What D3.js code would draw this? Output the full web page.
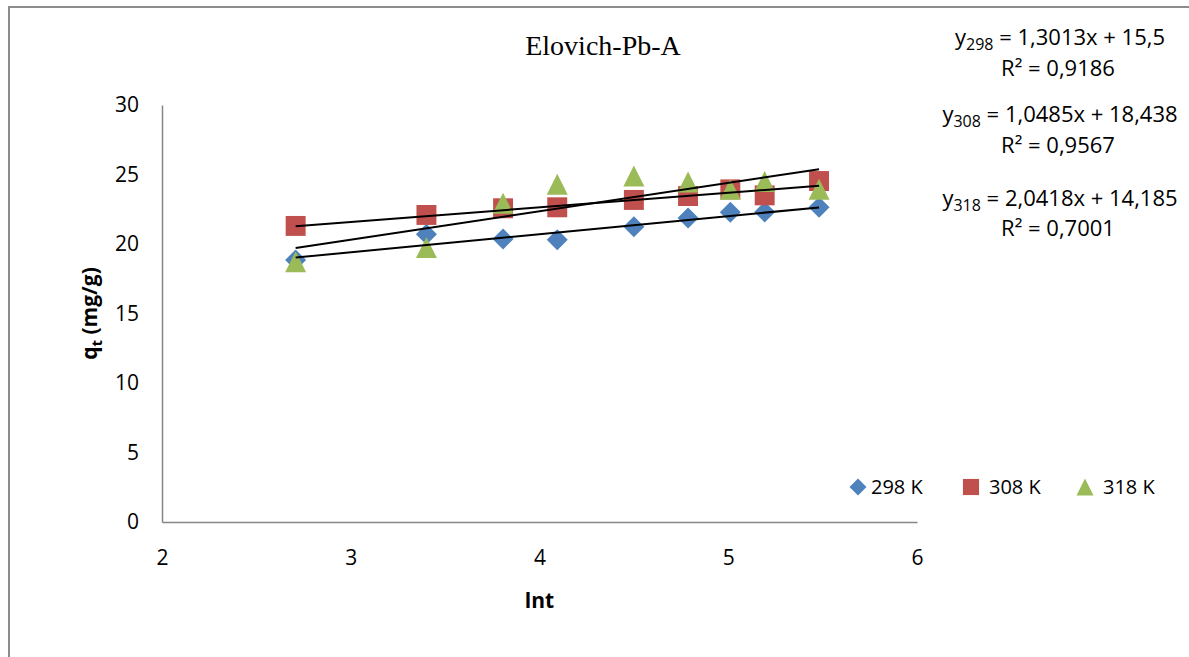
<!DOCTYPE html>
<html>
<head>
<meta charset="utf-8">
<script src="https://cdn.jsdelivr.net/npm/d3@7"></script>
<style>
  body { margin: 0; background: #fff; }
  .tick-label { font-family: "Open Sans", sans-serif; font-size: 21px; fill: #000; }
  .eq { font-family: "Open Sans", sans-serif; font-size: 22px; fill: #000; }
  .leg { font-family: "Open Sans", sans-serif; font-size: 20px; fill: #000; }
</style>
</head>
<body>
<div id="chart"></div>
<script>
(function() {
  var W = 1189, H = 657;

  // ln(t) values
  var lnt = [2.708, 3.401, 3.807, 4.094, 4.500, 4.787, 5.011, 5.193, 5.481];
  var q298 = [18.85, 20.70, 20.36, 20.30, 21.24, 21.87, 22.28, 22.30, 22.64];
  var q308 = [21.30, 22.09, 22.57, 22.64, 23.17, 23.45, 23.93, 23.50, 24.53];
  var q318 = [18.73, 19.74, 22.93, 24.30, 24.90, 24.46, 23.93, 24.50, 23.93];
  var seriesNames = ["298 K", "308 K", "318 K"];
  var slopes = [1.3013, 1.0485, 2.0418];
  var intercepts = [15.5, 18.438, 14.185];
  var eqSubs = ["298", "308", "318"];
  var eqText = ["= 1,3013x + 15,5", "= 1,0485x + 18,438", "= 2,0418x + 14,185"];
  var r2Text = ["R² = 0,9186", "R² = 0,9567", "R² = 0,7001"];
  var xTicks = [2, 3, 4, 5, 6];
  var yTicks = [0, 5, 10, 15, 20, 25, 30];

  var colors = ["#4F81BD", "#C0504D", "#9BBB59"];
  var allSeries = [q298, q308, q318];

  var plot = { left: 162, top: 105, right: 917, bottom: 522 };

  var svg = d3.select("#chart").append("svg")
    .attr("width", W)
    .attr("height", H)

  // outer frame (only top and left visible)
  svg.append("path")
    .attr("d", "M9,657 L9,7 L1189,7")
    .attr("fill", "none")
    .attr("stroke", "#8c8c8c")
    .attr("stroke-width", 2)

  var x = d3.scaleLinear().domain([2, 6]).range([plot.left, plot.right]);
  var y = d3.scaleLinear().domain([0, 30]).range([plot.bottom, plot.top]);

  // axes
  var xAxis = d3.axisBottom(x).tickValues(xTicks).tickSize(0).tickPadding(28).tickFormat(d3.format("d"));
  var gx = svg.append("g")
    .attr("transform", "translate(0," + plot.bottom + ")")
    .call(xAxis);
  gx.select(".domain").attr("stroke", "#868686").attr("stroke-width", 1.5);
  gx.selectAll("text").attr("class", "tick-label").attr("fill", null);

  var yAxis = d3.axisLeft(y).tickValues(yTicks).tickSize(0).tickPadding(23).tickFormat(d3.format("d"));
  var gy = svg.append("g")
    .attr("transform", "translate(" + plot.left + ",0)")
    .call(yAxis);
  gy.select(".domain").attr("stroke", "#868686").attr("stroke-width", 1.5);
  gy.selectAll("text").attr("class", "tick-label").attr("fill", null);

  // title
  svg.append("text")
    .text("Elovich-Pb-A")
    .attr("x", 603)
    .attr("y", 55)
    .attr("text-anchor", "middle")
    .style("font-family", "'Liberation Serif', 'Times New Roman', serif")
    .style("font-size", "28px")

  // axis titles
  svg.append("text")
    .text("lnt")
    .attr("x", (plot.left + plot.right) / 2)
    .attr("y", 608)
    .attr("text-anchor", "middle")
    .style("font-family", "'Open Sans', sans-serif")
    .style("font-size", "21px")
    .style("font-weight", "bold")

  var ylab = svg.append("text")
    .attr("transform", "translate(97," + ((plot.top + plot.bottom) / 2) + ") rotate(-90)")
    .attr("text-anchor", "middle")
    .style("font-family", "'Open Sans', sans-serif")
    .style("font-size", "21px")
    .style("font-weight", "bold")
  ylab.append("tspan").text("q");
  ylab.append("tspan").text("t").attr("dy", 5).style("font-size", "15px");
  ylab.append("tspan").text(" (mg/g)").attr("dy", -5);

  // marker shapes
  function markerPath(kind, s) {
    var h = s / 2;
    if (kind === 0) return "M0," + (-h) + "L" + h + ",0L0," + h + "L" + (-h) + ",0Z";
    if (kind === 1) return "M" + (-h * 0.95) + "," + (-h * 0.95) + "h" + (s * 0.95) + "v" + (s * 0.95) + "h" + (-s * 0.95) + "Z";
    return "M0," + (-h) + "L" + h + "," + h + "L" + (-h) + "," + h + "Z";
  }

  allSeries.forEach(function(vals, si) {
    svg.append("g")
      .selectAll("path")
      .data(vals)
      .enter()
      .append("path")
      .attr("d", markerPath(si, 21))
      .attr("transform", function(d, i) {
        return "translate(" + x(lnt[i]) + "," + y(d) + ")";
      })
      .attr("fill", colors[si])
  });

  // trendlines
  var xMin = d3.min(lnt), xMax = d3.max(lnt);
  var line = d3.line()
    .x(function(d) { return x(d[0]); })
    .y(function(d) { return y(d[1]); });

  slopes.forEach(function(m, i) {
    var b = intercepts[i];
    svg.append("path")
      .datum([[xMin, m * xMin + b], [xMax, m * xMax + b]])
      .attr("d", line)
      .attr("stroke", "black")
      .attr("stroke-width", 2)
      .attr("fill", "none")
  });

  // equation labels
  var eqY = [45, 122, 206];
  var r2Y = [76, 153, 236];
  eqSubs.forEach(function(sub, i) {
    var t = svg.append("text")
      .attr("class", "eq")
      .attr("x", 1060)
      .attr("y", eqY[i])
      .attr("text-anchor", "middle")
    t.append("tspan").text("y");
    t.append("tspan").text(sub).attr("dy", 5).style("font-size", "16px");
    t.append("tspan").text(" " + eqText[i]).attr("dy", -5);

    svg.append("text")
      .attr("class", "eq")
      .attr("x", 1058)
      .attr("y", r2Y[i])
      .attr("text-anchor", "middle")
      .text(r2Text[i])
  });

  // legend
  var legendX = [858, 971, 1085];
  var legend = svg.append("g")
    .selectAll("g")
    .data(seriesNames)
    .enter()
    .append("g")
    .attr("transform", function(d, i) { return "translate(" + legendX[i] + ",487)"; })

  legend.append("path")
    .attr("d", function(d, i) { return markerPath(i, 17); })
    .attr("fill", function(d, i) { return colors[i]; })

  legend.append("text")
    .text(function(d) { return d; })
    .attr("x", function(d, i) { return i === 0 ? 13 : 18; })
    .attr("y", 7)
    .attr("class", "leg")
})();
</script>
</body>
</html>
